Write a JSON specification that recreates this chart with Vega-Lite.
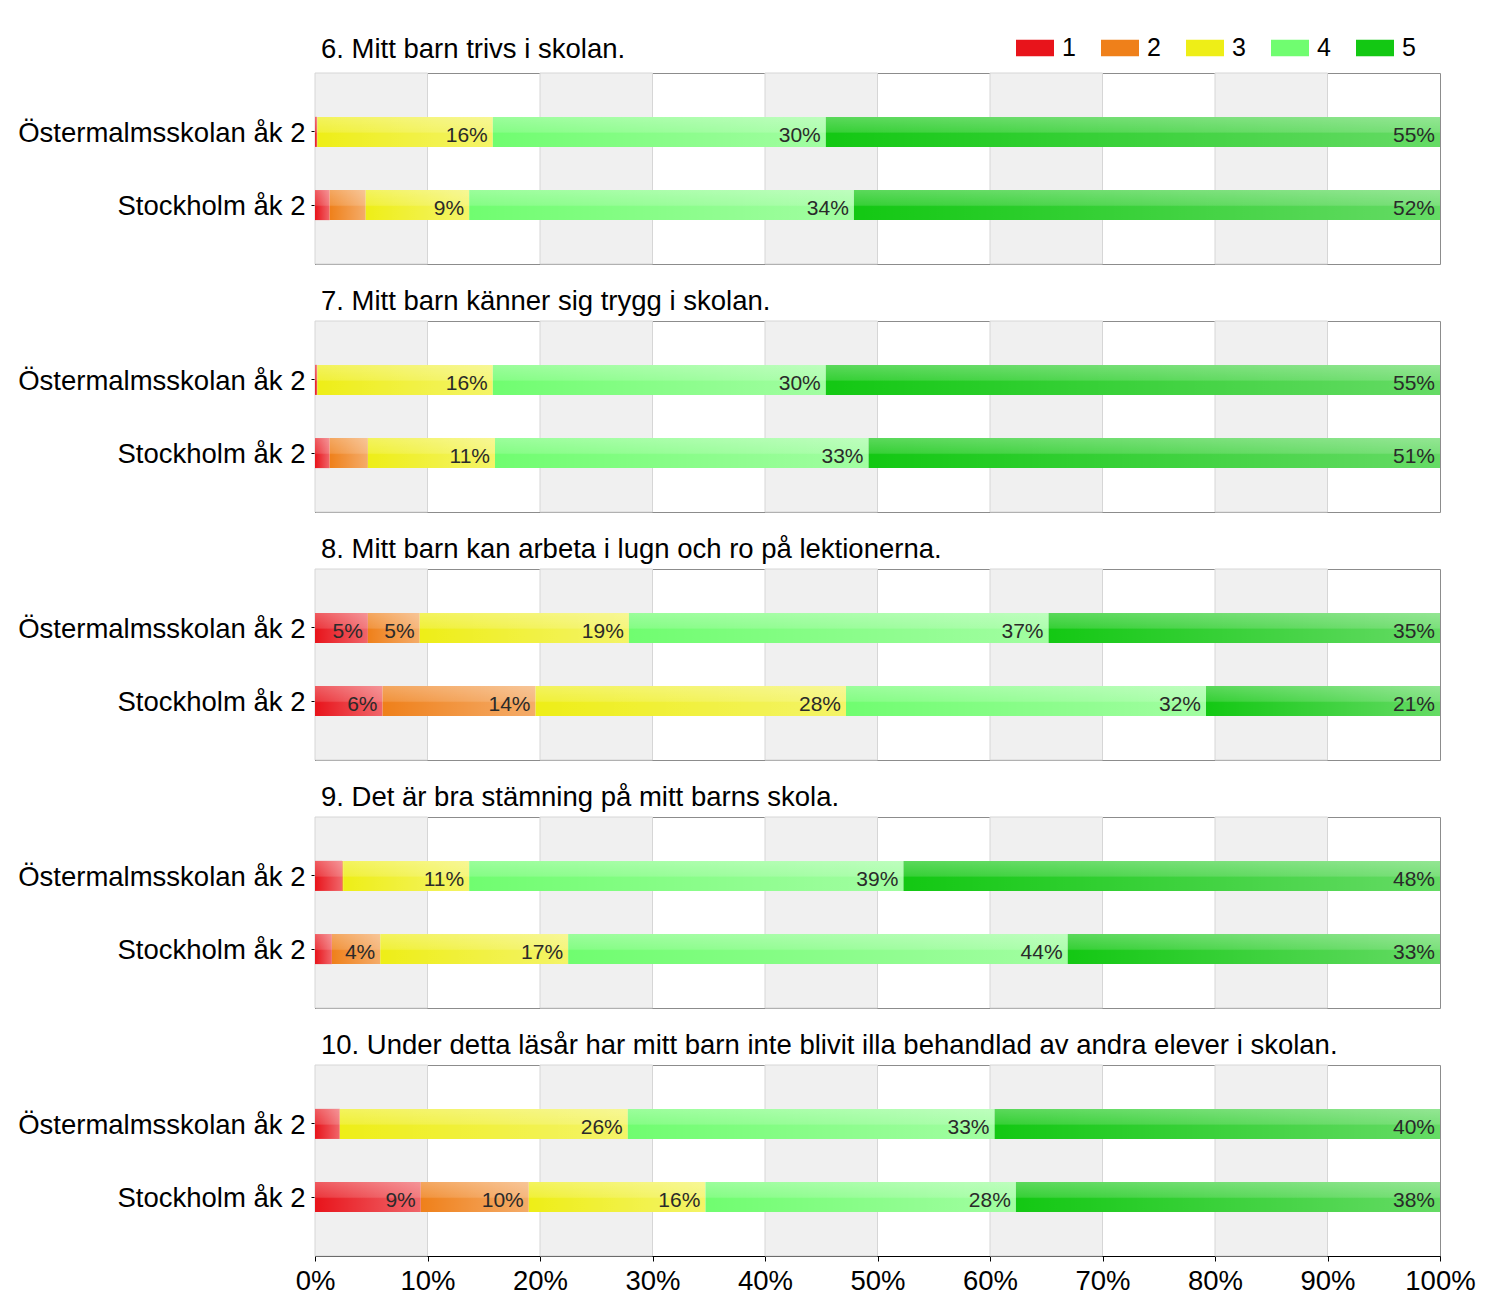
{
  "$schema": "https://vega.github.io/schema/vega-lite/v6.json",
  "autosize": {"type": "none"},
  "padding": {"left": 315, "top": 73, "right": 1185, "bottom": 1239},
  "background": "#ffffff",
  "datasets": {
    "survey": [
      {"q": 6, "group": "Östermalmsskolan åk 2", "cat": "1", "value": 0.002},
      {"q": 6, "group": "Östermalmsskolan åk 2", "cat": "2", "value": 0.0},
      {"q": 6, "group": "Östermalmsskolan åk 2", "cat": "3", "value": 0.156},
      {"q": 6, "group": "Östermalmsskolan åk 2", "cat": "4", "value": 0.296},
      {"q": 6, "group": "Östermalmsskolan åk 2", "cat": "5", "value": 0.546},
      {"q": 6, "group": "Stockholm åk 2", "cat": "1", "value": 0.013},
      {"q": 6, "group": "Stockholm åk 2", "cat": "2", "value": 0.032},
      {"q": 6, "group": "Stockholm åk 2", "cat": "3", "value": 0.092},
      {"q": 6, "group": "Stockholm åk 2", "cat": "4", "value": 0.342},
      {"q": 6, "group": "Stockholm åk 2", "cat": "5", "value": 0.521},
      {"q": 7, "group": "Östermalmsskolan åk 2", "cat": "1", "value": 0.002},
      {"q": 7, "group": "Östermalmsskolan åk 2", "cat": "2", "value": 0.0},
      {"q": 7, "group": "Östermalmsskolan åk 2", "cat": "3", "value": 0.156},
      {"q": 7, "group": "Östermalmsskolan åk 2", "cat": "4", "value": 0.296},
      {"q": 7, "group": "Östermalmsskolan åk 2", "cat": "5", "value": 0.546},
      {"q": 7, "group": "Stockholm åk 2", "cat": "1", "value": 0.013},
      {"q": 7, "group": "Stockholm åk 2", "cat": "2", "value": 0.034},
      {"q": 7, "group": "Stockholm åk 2", "cat": "3", "value": 0.113},
      {"q": 7, "group": "Stockholm åk 2", "cat": "4", "value": 0.332},
      {"q": 7, "group": "Stockholm åk 2", "cat": "5", "value": 0.508},
      {"q": 8, "group": "Östermalmsskolan åk 2", "cat": "1", "value": 0.047},
      {"q": 8, "group": "Östermalmsskolan åk 2", "cat": "2", "value": 0.046},
      {"q": 8, "group": "Östermalmsskolan åk 2", "cat": "3", "value": 0.186},
      {"q": 8, "group": "Östermalmsskolan åk 2", "cat": "4", "value": 0.373},
      {"q": 8, "group": "Östermalmsskolan åk 2", "cat": "5", "value": 0.348},
      {"q": 8, "group": "Stockholm åk 2", "cat": "1", "value": 0.06},
      {"q": 8, "group": "Stockholm åk 2", "cat": "2", "value": 0.136},
      {"q": 8, "group": "Stockholm åk 2", "cat": "3", "value": 0.276},
      {"q": 8, "group": "Stockholm åk 2", "cat": "4", "value": 0.32},
      {"q": 8, "group": "Stockholm åk 2", "cat": "5", "value": 0.208},
      {"q": 9, "group": "Östermalmsskolan åk 2", "cat": "1", "value": 0.024},
      {"q": 9, "group": "Östermalmsskolan åk 2", "cat": "2", "value": 0.001},
      {"q": 9, "group": "Östermalmsskolan åk 2", "cat": "3", "value": 0.112},
      {"q": 9, "group": "Östermalmsskolan åk 2", "cat": "4", "value": 0.386},
      {"q": 9, "group": "Östermalmsskolan åk 2", "cat": "5", "value": 0.477},
      {"q": 9, "group": "Stockholm åk 2", "cat": "1", "value": 0.015},
      {"q": 9, "group": "Stockholm åk 2", "cat": "2", "value": 0.043},
      {"q": 9, "group": "Stockholm åk 2", "cat": "3", "value": 0.167},
      {"q": 9, "group": "Stockholm åk 2", "cat": "4", "value": 0.444},
      {"q": 9, "group": "Stockholm åk 2", "cat": "5", "value": 0.331},
      {"q": 10, "group": "Östermalmsskolan åk 2", "cat": "1", "value": 0.022},
      {"q": 10, "group": "Östermalmsskolan åk 2", "cat": "2", "value": 0.0},
      {"q": 10, "group": "Östermalmsskolan åk 2", "cat": "3", "value": 0.256},
      {"q": 10, "group": "Östermalmsskolan åk 2", "cat": "4", "value": 0.326},
      {"q": 10, "group": "Östermalmsskolan åk 2", "cat": "5", "value": 0.396},
      {"q": 10, "group": "Stockholm åk 2", "cat": "1", "value": 0.094},
      {"q": 10, "group": "Stockholm åk 2", "cat": "2", "value": 0.096},
      {"q": 10, "group": "Stockholm åk 2", "cat": "3", "value": 0.157},
      {"q": 10, "group": "Stockholm åk 2", "cat": "4", "value": 0.276},
      {"q": 10, "group": "Stockholm åk 2", "cat": "5", "value": 0.377}
    ],
    "bands": [
      {"lo": 0.0, "hi": 0.1},
      {"lo": 0.2, "hi": 0.3},
      {"lo": 0.4, "hi": 0.5},
      {"lo": 0.6, "hi": 0.7},
      {"lo": 0.8, "hi": 0.9}
    ]
  },
  "spacing": 57,
  "bounds": "flush",
  "resolve": {"scale": {"color": "shared"}, "legend": {"color": "shared"}},
  "vconcat": [
    {
      "width": 1125, "height": 191,
      "title": {"text": "6. Mitt barn trivs i skolan.", "offset": 9},
      "layer": [
        {"data": {"name": "bands"}, "mark": {"type": "rect", "fill": "#f0f0f0", "stroke": "#d6d6d6", "strokeWidth": 1},
         "encoding": {"x": {"field": "lo", "type": "quantitative", "scale": {"domain": [0, 1], "nice": false}, "axis": null}, "x2": {"field": "hi"}}},
        {"data": {"name": "survey"},
         "transform": [{"filter": "datum.q == 6"}, {"stack": "value", "groupby": ["group"], "sort": [{"field": "cat", "order": "ascending"}], "as": ["v0", "v1"]}],
         "encoding": {"y": {"field": "group", "type": "nominal", "sort": ["Östermalmsskolan åk 2", "Stockholm åk 2"], "scale": {"paddingInner": 0.59, "paddingOuter": 0.6}, "axis": {"title": null}}},
         "layer": [
           {"mark": {"type": "bar"}, "encoding": {"x": {"field": "v0", "type": "quantitative", "axis": null}, "x2": {"field": "v1"},
             "color": {"field": "cat", "type": "nominal", "scale": {"domain": ["1", "2", "3", "4", "5"], "range": ["#e8141b", "#ef801a", "#eeee17", "#70fd70", "#13c813"]},
               "legend": {"orient": "none", "legendX": 701, "legendY": -44, "direction": "horizontal", "title": null, "symbolType": "M-1,-0.44H1V0.44H-1Z", "symbolSize": 1444, "symbolStrokeWidth": 0, "symbolOpacity": 1, "labelFontSize": 25, "labelFont": "Liberation Sans", "labelColor": "#000000", "labelOffset": 8, "columnPadding": 25, "padding": 0}}}},
           {"mark": {"type": "bar", "color": {"gradient": "linear", "x1": 0, "y1": 0, "x2": 1, "y2": 0, "stops": [{"offset": 0, "color": "rgba(255,255,255,0)"}, {"offset": 1, "color": "rgba(255,255,255,0.35)"}]}}, "encoding": {"x": {"field": "v0", "type": "quantitative", "axis": null}, "x2": {"field": "v1"}}},
           {"mark": {"type": "bar", "color": {"gradient": "linear", "x1": 0, "y1": 0, "x2": 0, "y2": 1, "stops": [{"offset": 0, "color": "rgba(255,255,255,0.3)"}, {"offset": 0.5, "color": "rgba(255,255,255,0.15)"}, {"offset": 0.55, "color": "rgba(255,255,255,0)"}, {"offset": 1, "color": "rgba(255,255,255,0)"}]}}, "encoding": {"x": {"field": "v0", "type": "quantitative", "axis": null}, "x2": {"field": "v1"}}},
           {"transform": [{"filter": "datum.value >= 0.035"}], "mark": {"type": "text", "align": "right", "baseline": "alphabetic", "dx": -5, "dy": 10, "fontSize": 21, "font": "Liberation Sans", "color": "#2a2a2a"},
            "encoding": {"x": {"field": "v1", "type": "quantitative", "axis": null}, "text": {"field": "value", "format": ".0%"}}}
         ]}
      ]
    },
    {
      "width": 1125, "height": 191,
      "title": {"text": "7. Mitt barn känner sig trygg i skolan."},
      "layer": [
        {"data": {"name": "bands"}, "mark": {"type": "rect", "fill": "#f0f0f0", "stroke": "#d6d6d6", "strokeWidth": 1},
         "encoding": {"x": {"field": "lo", "type": "quantitative", "scale": {"domain": [0, 1], "nice": false}, "axis": null}, "x2": {"field": "hi"}}},
        {"data": {"name": "survey"},
         "transform": [{"filter": "datum.q == 7"}, {"stack": "value", "groupby": ["group"], "sort": [{"field": "cat", "order": "ascending"}], "as": ["v0", "v1"]}],
         "encoding": {"y": {"field": "group", "type": "nominal", "sort": ["Östermalmsskolan åk 2", "Stockholm åk 2"], "scale": {"paddingInner": 0.59, "paddingOuter": 0.6}, "axis": {"title": null}}},
         "layer": [
           {"mark": {"type": "bar"}, "encoding": {"x": {"field": "v0", "type": "quantitative", "axis": null}, "x2": {"field": "v1"},
             "color": {"field": "cat", "type": "nominal", "scale": {"domain": ["1", "2", "3", "4", "5"], "range": ["#e8141b", "#ef801a", "#eeee17", "#70fd70", "#13c813"]},
               "legend": {"orient": "none", "legendX": 701, "legendY": -44, "direction": "horizontal", "title": null, "symbolType": "M-1,-0.44H1V0.44H-1Z", "symbolSize": 1444, "symbolStrokeWidth": 0, "symbolOpacity": 1, "labelFontSize": 25, "labelFont": "Liberation Sans", "labelColor": "#000000", "labelOffset": 8, "columnPadding": 25, "padding": 0}}}},
           {"mark": {"type": "bar", "color": {"gradient": "linear", "x1": 0, "y1": 0, "x2": 1, "y2": 0, "stops": [{"offset": 0, "color": "rgba(255,255,255,0)"}, {"offset": 1, "color": "rgba(255,255,255,0.35)"}]}}, "encoding": {"x": {"field": "v0", "type": "quantitative", "axis": null}, "x2": {"field": "v1"}}},
           {"mark": {"type": "bar", "color": {"gradient": "linear", "x1": 0, "y1": 0, "x2": 0, "y2": 1, "stops": [{"offset": 0, "color": "rgba(255,255,255,0.3)"}, {"offset": 0.5, "color": "rgba(255,255,255,0.15)"}, {"offset": 0.55, "color": "rgba(255,255,255,0)"}, {"offset": 1, "color": "rgba(255,255,255,0)"}]}}, "encoding": {"x": {"field": "v0", "type": "quantitative", "axis": null}, "x2": {"field": "v1"}}},
           {"transform": [{"filter": "datum.value >= 0.035"}], "mark": {"type": "text", "align": "right", "baseline": "alphabetic", "dx": -5, "dy": 10, "fontSize": 21, "font": "Liberation Sans", "color": "#2a2a2a"},
            "encoding": {"x": {"field": "v1", "type": "quantitative", "axis": null}, "text": {"field": "value", "format": ".0%"}}}
         ]}
      ]
    },
    {
      "width": 1125, "height": 191,
      "title": {"text": "8. Mitt barn kan arbeta i lugn och ro på lektionerna."},
      "layer": [
        {"data": {"name": "bands"}, "mark": {"type": "rect", "fill": "#f0f0f0", "stroke": "#d6d6d6", "strokeWidth": 1},
         "encoding": {"x": {"field": "lo", "type": "quantitative", "scale": {"domain": [0, 1], "nice": false}, "axis": null}, "x2": {"field": "hi"}}},
        {"data": {"name": "survey"},
         "transform": [{"filter": "datum.q == 8"}, {"stack": "value", "groupby": ["group"], "sort": [{"field": "cat", "order": "ascending"}], "as": ["v0", "v1"]}],
         "encoding": {"y": {"field": "group", "type": "nominal", "sort": ["Östermalmsskolan åk 2", "Stockholm åk 2"], "scale": {"paddingInner": 0.59, "paddingOuter": 0.6}, "axis": {"title": null}}},
         "layer": [
           {"mark": {"type": "bar"}, "encoding": {"x": {"field": "v0", "type": "quantitative", "axis": null}, "x2": {"field": "v1"},
             "color": {"field": "cat", "type": "nominal", "scale": {"domain": ["1", "2", "3", "4", "5"], "range": ["#e8141b", "#ef801a", "#eeee17", "#70fd70", "#13c813"]},
               "legend": {"orient": "none", "legendX": 701, "legendY": -44, "direction": "horizontal", "title": null, "symbolType": "M-1,-0.44H1V0.44H-1Z", "symbolSize": 1444, "symbolStrokeWidth": 0, "symbolOpacity": 1, "labelFontSize": 25, "labelFont": "Liberation Sans", "labelColor": "#000000", "labelOffset": 8, "columnPadding": 25, "padding": 0}}}},
           {"mark": {"type": "bar", "color": {"gradient": "linear", "x1": 0, "y1": 0, "x2": 1, "y2": 0, "stops": [{"offset": 0, "color": "rgba(255,255,255,0)"}, {"offset": 1, "color": "rgba(255,255,255,0.35)"}]}}, "encoding": {"x": {"field": "v0", "type": "quantitative", "axis": null}, "x2": {"field": "v1"}}},
           {"mark": {"type": "bar", "color": {"gradient": "linear", "x1": 0, "y1": 0, "x2": 0, "y2": 1, "stops": [{"offset": 0, "color": "rgba(255,255,255,0.3)"}, {"offset": 0.5, "color": "rgba(255,255,255,0.15)"}, {"offset": 0.55, "color": "rgba(255,255,255,0)"}, {"offset": 1, "color": "rgba(255,255,255,0)"}]}}, "encoding": {"x": {"field": "v0", "type": "quantitative", "axis": null}, "x2": {"field": "v1"}}},
           {"transform": [{"filter": "datum.value >= 0.035"}], "mark": {"type": "text", "align": "right", "baseline": "alphabetic", "dx": -5, "dy": 10, "fontSize": 21, "font": "Liberation Sans", "color": "#2a2a2a"},
            "encoding": {"x": {"field": "v1", "type": "quantitative", "axis": null}, "text": {"field": "value", "format": ".0%"}}}
         ]}
      ]
    },
    {
      "width": 1125, "height": 191,
      "title": {"text": "9. Det är bra stämning på mitt barns skola."},
      "layer": [
        {"data": {"name": "bands"}, "mark": {"type": "rect", "fill": "#f0f0f0", "stroke": "#d6d6d6", "strokeWidth": 1},
         "encoding": {"x": {"field": "lo", "type": "quantitative", "scale": {"domain": [0, 1], "nice": false}, "axis": null}, "x2": {"field": "hi"}}},
        {"data": {"name": "survey"},
         "transform": [{"filter": "datum.q == 9"}, {"stack": "value", "groupby": ["group"], "sort": [{"field": "cat", "order": "ascending"}], "as": ["v0", "v1"]}],
         "encoding": {"y": {"field": "group", "type": "nominal", "sort": ["Östermalmsskolan åk 2", "Stockholm åk 2"], "scale": {"paddingInner": 0.59, "paddingOuter": 0.6}, "axis": {"title": null}}},
         "layer": [
           {"mark": {"type": "bar"}, "encoding": {"x": {"field": "v0", "type": "quantitative", "axis": null}, "x2": {"field": "v1"},
             "color": {"field": "cat", "type": "nominal", "scale": {"domain": ["1", "2", "3", "4", "5"], "range": ["#e8141b", "#ef801a", "#eeee17", "#70fd70", "#13c813"]},
               "legend": {"orient": "none", "legendX": 701, "legendY": -44, "direction": "horizontal", "title": null, "symbolType": "M-1,-0.44H1V0.44H-1Z", "symbolSize": 1444, "symbolStrokeWidth": 0, "symbolOpacity": 1, "labelFontSize": 25, "labelFont": "Liberation Sans", "labelColor": "#000000", "labelOffset": 8, "columnPadding": 25, "padding": 0}}}},
           {"mark": {"type": "bar", "color": {"gradient": "linear", "x1": 0, "y1": 0, "x2": 1, "y2": 0, "stops": [{"offset": 0, "color": "rgba(255,255,255,0)"}, {"offset": 1, "color": "rgba(255,255,255,0.35)"}]}}, "encoding": {"x": {"field": "v0", "type": "quantitative", "axis": null}, "x2": {"field": "v1"}}},
           {"mark": {"type": "bar", "color": {"gradient": "linear", "x1": 0, "y1": 0, "x2": 0, "y2": 1, "stops": [{"offset": 0, "color": "rgba(255,255,255,0.3)"}, {"offset": 0.5, "color": "rgba(255,255,255,0.15)"}, {"offset": 0.55, "color": "rgba(255,255,255,0)"}, {"offset": 1, "color": "rgba(255,255,255,0)"}]}}, "encoding": {"x": {"field": "v0", "type": "quantitative", "axis": null}, "x2": {"field": "v1"}}},
           {"transform": [{"filter": "datum.value >= 0.035"}], "mark": {"type": "text", "align": "right", "baseline": "alphabetic", "dx": -5, "dy": 10, "fontSize": 21, "font": "Liberation Sans", "color": "#2a2a2a"},
            "encoding": {"x": {"field": "v1", "type": "quantitative", "axis": null}, "text": {"field": "value", "format": ".0%"}}}
         ]}
      ]
    },
    {
      "width": 1125, "height": 191,
      "title": {"text": "10. Under detta läsår har mitt barn inte blivit illa behandlad av andra elever i skolan."},
      "layer": [
        {"data": {"name": "bands"}, "mark": {"type": "rect", "fill": "#f0f0f0", "stroke": "#d6d6d6", "strokeWidth": 1},
         "encoding": {"x": {"field": "lo", "type": "quantitative", "scale": {"domain": [0, 1], "nice": false},
           "axis": {"title": null, "values": [0, 0.1, 0.2, 0.3, 0.4, 0.5, 0.6, 0.7, 0.8, 0.9, 1], "format": ".0%", "tickSize": 5, "labelPadding": 6, "labelFlush": false, "labelOverlap": false, "grid": false}}, "x2": {"field": "hi"}}},
        {"data": {"name": "survey"},
         "transform": [{"filter": "datum.q == 10"}, {"stack": "value", "groupby": ["group"], "sort": [{"field": "cat", "order": "ascending"}], "as": ["v0", "v1"]}],
         "encoding": {"y": {"field": "group", "type": "nominal", "sort": ["Östermalmsskolan åk 2", "Stockholm åk 2"], "scale": {"paddingInner": 0.59, "paddingOuter": 0.6}, "axis": {"title": null}}},
         "layer": [
           {"mark": {"type": "bar"}, "encoding": {"x": {"field": "v0", "type": "quantitative", "axis": {"title": null, "values": [0, 0.1, 0.2, 0.3, 0.4, 0.5, 0.6, 0.7, 0.8, 0.9, 1], "format": ".0%", "tickSize": 5, "labelPadding": 6, "labelFlush": false, "labelOverlap": false, "grid": false}}, "x2": {"field": "v1"},
             "color": {"field": "cat", "type": "nominal", "scale": {"domain": ["1", "2", "3", "4", "5"], "range": ["#e8141b", "#ef801a", "#eeee17", "#70fd70", "#13c813"]},
               "legend": {"orient": "none", "legendX": 701, "legendY": -44, "direction": "horizontal", "title": null, "symbolType": "M-1,-0.44H1V0.44H-1Z", "symbolSize": 1444, "symbolStrokeWidth": 0, "symbolOpacity": 1, "labelFontSize": 25, "labelFont": "Liberation Sans", "labelColor": "#000000", "labelOffset": 8, "columnPadding": 25, "padding": 0}}}},
           {"mark": {"type": "bar", "color": {"gradient": "linear", "x1": 0, "y1": 0, "x2": 1, "y2": 0, "stops": [{"offset": 0, "color": "rgba(255,255,255,0)"}, {"offset": 1, "color": "rgba(255,255,255,0.35)"}]}}, "encoding": {"x": {"field": "v0", "type": "quantitative", "axis": {"title": null, "values": [0, 0.1, 0.2, 0.3, 0.4, 0.5, 0.6, 0.7, 0.8, 0.9, 1], "format": ".0%", "tickSize": 5, "labelPadding": 6, "labelFlush": false, "labelOverlap": false, "grid": false}}, "x2": {"field": "v1"}}},
           {"mark": {"type": "bar", "color": {"gradient": "linear", "x1": 0, "y1": 0, "x2": 0, "y2": 1, "stops": [{"offset": 0, "color": "rgba(255,255,255,0.3)"}, {"offset": 0.5, "color": "rgba(255,255,255,0.15)"}, {"offset": 0.55, "color": "rgba(255,255,255,0)"}, {"offset": 1, "color": "rgba(255,255,255,0)"}]}}, "encoding": {"x": {"field": "v0", "type": "quantitative", "axis": {"title": null, "values": [0, 0.1, 0.2, 0.3, 0.4, 0.5, 0.6, 0.7, 0.8, 0.9, 1], "format": ".0%", "tickSize": 5, "labelPadding": 6, "labelFlush": false, "labelOverlap": false, "grid": false}}, "x2": {"field": "v1"}}},
           {"transform": [{"filter": "datum.value >= 0.035"}], "mark": {"type": "text", "align": "right", "baseline": "alphabetic", "dx": -5, "dy": 10, "fontSize": 21, "font": "Liberation Sans", "color": "#2a2a2a"},
            "encoding": {"x": {"field": "v1", "type": "quantitative", "axis": {"title": null, "values": [0, 0.1, 0.2, 0.3, 0.4, 0.5, 0.6, 0.7, 0.8, 0.9, 1], "format": ".0%", "tickSize": 5, "labelPadding": 6, "labelFlush": false, "labelOverlap": false, "grid": false}}, "text": {"field": "value", "format": ".0%"}}}
         ]}
      ]
    }
  ],
  "config": {
    "font": "Liberation Sans",
    "view": {"stroke": "#8c8c8c", "strokeWidth": 1},
    "axis": {"labelFont": "Liberation Sans", "labelFontSize": 27.5, "labelColor": "#000000", "domainColor": "#000000", "tickColor": "#000000", "grid": false},
    "axisY": {"labelPadding": 6, "tickSize": 4, "labelLimit": 400, "labelOffset": 2},
    "title": {"anchor": "start", "frame": "group", "font": "Liberation Sans", "fontSize": 27.5, "fontWeight": "normal", "color": "#000000", "dx": 6, "offset": 5, "baseline": "alphabetic"}
  }
}
